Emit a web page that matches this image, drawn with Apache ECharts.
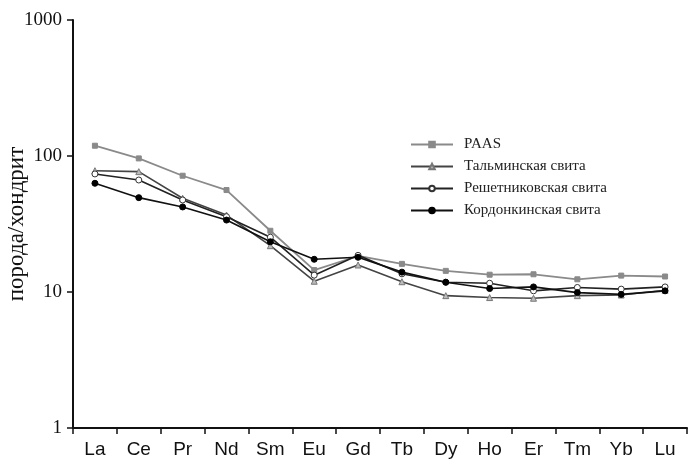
<!DOCTYPE html>
<html>
<head>
<meta charset="utf-8">
<script src="https://cdn.jsdelivr.net/npm/echarts@6/dist/echarts.min.js"></script>
<style>
  html, body { margin: 0; padding: 0; background: #fff; }
  #chart { width: 688px; height: 463px; }
</style>
</head>
<body>
<div id="chart"></div>
<script>
// элементы
const elements = ['La', 'Ce', 'Pr', 'Nd', 'Sm', 'Eu', 'Gd', 'Tb', 'Dy', 'Ho', 'Er', 'Tm', 'Yb', 'Lu']
// порода/хондрит
const paas = [119, 96, 71.6, 56.2, 28.2, 14.5, 18.4, 16.1, 14.3, 13.4, 13.5, 12.4, 13.2, 13.0]
const talma = [78, 76.7, 48.9, 36.8, 21.9, 12.0, 15.8, 11.9, 9.4, 9.1, 9.0, 9.4, 9.5, 10.3]
const reshet = [73.8, 66.6, 47.5, 35.8, 25.3, 13.3, 18.6, 13.6, 11.8, 11.6, 10.2, 10.8, 10.5, 10.9]
const kordon = [63, 49.4, 42.2, 33.8, 23.4, 17.4, 18.0, 14.0, 11.8, 10.6, 10.9, 9.9, 9.6, 10.2]
const yTicks = [1, 10, 100, 1000]

const chart = echarts.init(document.getElementById('chart'))

const serif = 'Liberation Serif'

const options = {
  animation: false,
  grid: {
    left: 73,
    right: 1,
    top: 20,
    bottom: 35,
    containLabel: false,
    outerBoundsMode: 'none',
  },
  legend: {
    orient: 'vertical',
    left: 410,
    top: 137,
    padding: 0,
    itemWidth: 42,
    itemHeight: 7,
    itemGap: 7,
    textStyle: {
      fontFamily: serif,
      fontSize: 15,
      color: '#222',
      padding: [0, 0, 0, 6],
    },
    data: ['PAAS', 'Тальминская свита', 'Решетниковская свита', 'Кордонкинская свита'],
  },
  xAxis: {
    type: 'category',
    data: elements,
    boundaryGap: true,
    axisLine: { lineStyle: { color: '#111', width: 2 } },
    axisTick: { show: true, interval: 0, length: 6, lineStyle: { color: '#111', width: 1.5 } },
    axisLabel: {
      interval: 0,
      margin: 12,
      fontFamily: 'Liberation Sans',
      fontSize: 19,
      color: '#111',
    },
    splitLine: { show: false },
  },
  yAxis: {
    type: 'log',
    logBase: 10,
    min: yTicks[0],
    max: yTicks[yTicks.length - 1],
    name: 'порода/хондрит',
    nameLocation: 'middle',
    nameGap: 45,
    nameMoveOverlap: false,
    nameTextStyle: {
      fontFamily: serif,
      fontSize: 23,
      color: '#111',
      padding: [0, 0, 0, 0],
    },
    axisLine: { show: true, lineStyle: { color: '#111', width: 2 } },
    axisTick: { show: true, length: 6, lineStyle: { color: '#111', width: 1.5 } },
    axisLabel: {
      margin: 11,
      fontFamily: serif,
      fontSize: 19,
      color: '#111',
      formatter: v => String(v),
    },
    splitLine: { show: false },
    minorTick: { show: false },
  },
  series: [
    {
      name: 'PAAS',
      type: 'line',
      data: paas,
      symbol: 'rect',
      symbolSize: 5,
      lineStyle: { color: '#8a8a8a', width: 1.8 },
      itemStyle: { color: '#8a8a8a', borderColor: '#8a8a8a', borderWidth: 1 },
      z: 2,
    },
    {
      name: 'Тальминская свита',
      type: 'line',
      data: talma,
      symbol: 'triangle',
      symbolSize: 6,
      lineStyle: { color: '#444', width: 1.6 },
      itemStyle: { color: '#bbb', borderColor: '#777', borderWidth: 1 },
      z: 3,
    },
    {
      name: 'Решетниковская свита',
      type: 'line',
      data: reshet,
      symbol: 'circle',
      symbolSize: 6,
      lineStyle: { color: '#222', width: 1.6 },
      itemStyle: { color: '#fff', borderColor: '#333', borderWidth: 1 },
      z: 4,
    },
    {
      name: 'Кордонкинская свита',
      type: 'line',
      data: kordon,
      symbol: 'circle',
      symbolSize: 6,
      lineStyle: { color: '#111', width: 1.6 },
      itemStyle: { color: '#000', borderColor: '#000', borderWidth: 1 },
      z: 5,
    },
  ],
}

chart.setOption(options)
</script>
</body>
</html>
